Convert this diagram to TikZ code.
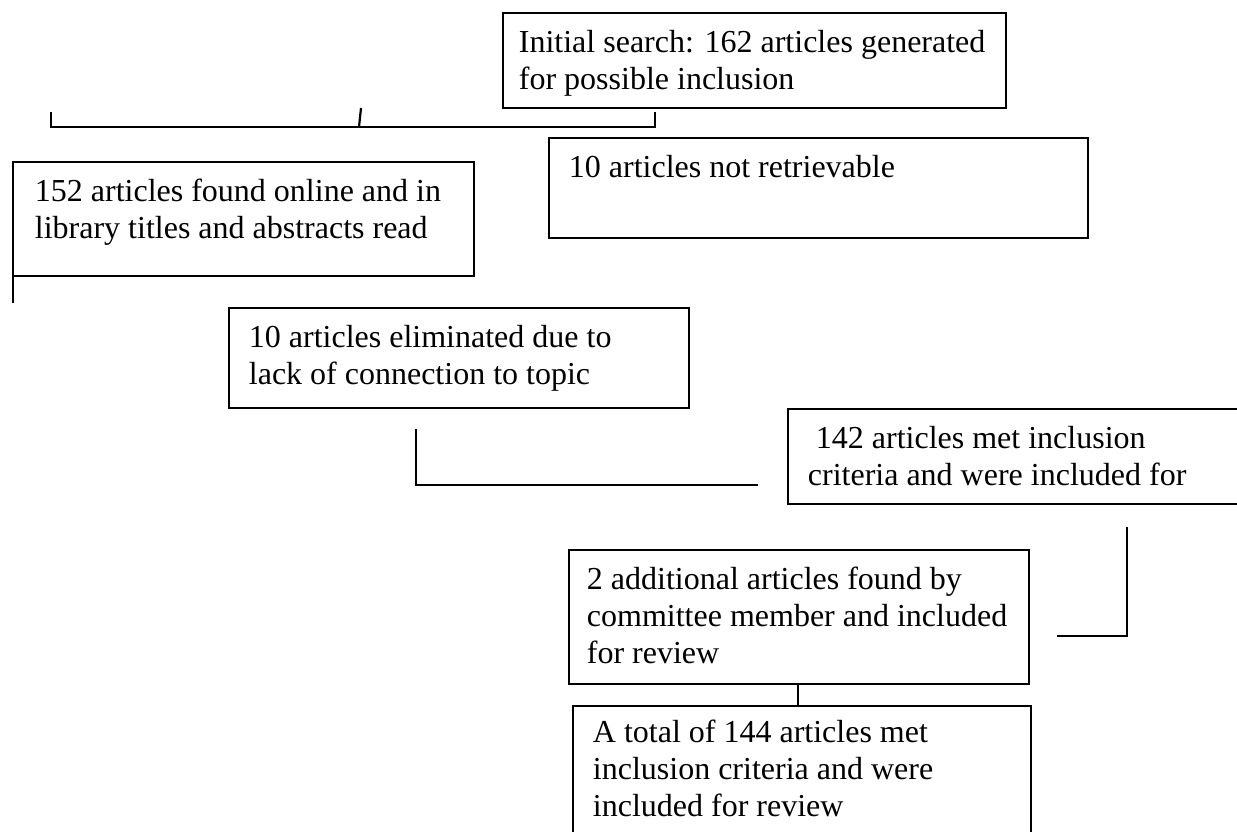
\documentclass[tikz,border=0pt]{standalone}
\usepackage{fontspec}
\setmainfont{Liberation Serif}
\usetikzlibrary{positioning}

\tikzset{
  flowbox/.style={draw, line width=1.8pt, anchor=north west, inner xsep=20pt, inner ysep=13pt,
    font=\fontsize{32}{37}\selectfont, align=left},
  link/.style={line width=2.2pt}
}
% text block of fixed size, first baseline 27pt below its top
\newcommand{\boxbody}[3]{\parbox[c][#2pt][t]{#1pt}{\raggedright\rule{0pt}{27pt}#3}}

\begin{document}
\begin{tikzpicture}[x=1pt, y=-1pt]
% Page
\path[use as bounding box, fill=white] (0,0) rectangle (1237,832);
\clip (0,0) rectangle (1237,832);

% Boxes
\node[flowbox, inner xsep=16pt] (search) at (502,12) {\boxbody{471}{69}{Initial search: 162 articles generated\\for possible inclusion}};
\node[flowbox, inner xsep=22pt] (found) at (12,161) {\boxbody{417}{88}{152 articles found online and in\\library titles and abstracts read}};
\node[flowbox] (lost) at (548,137) {\boxbody{499}{74}{10 articles not retrievable}};
\node[flowbox] (elim) at (228,307) {\boxbody{420}{74}{10 articles eliminated due to\\lack of connection to topic}};
\node[flowbox] (met) at (787,408) {\boxbody{460}{69}{\hspace*{8pt}142 articles met inclusion\\criteria and were included for}};
\node[flowbox, inner xsep=18pt] (extra) at (568,549) {\boxbody{424}{108}{2 additional articles found by\\committee member and included\\for review}};
\node[flowbox, inner ysep=10pt] (total) at (572,705) {\boxbody{418}{140}{A total of 144 articles met\\inclusion criteria and were\\included for review}};

% Connector points
\coordinate (stubtop) at (361,108);
\coordinate (split) at (359,127);
\coordinate (splitL) at (51,127);
\coordinate (splitR) at (655,127);
\coordinate (sideA) at (13,265);
\coordinate (sideB) at (13,303);
\coordinate (elbowA) at (416,429);
\coordinate (elbowB) at (416,485);
\coordinate (elbowC) at (758,485);
\coordinate (hookA) at (1127,527);
\coordinate (hookB) at (1127,636);
\coordinate (hookC) at (1057,636);
\coordinate (tie) at (798,0);

% Connectors
\draw[link] (stubtop) -- (split);
\draw[link] ([yshift=15pt]splitL) -- (splitL) -- (splitR) -- ([yshift=15pt]splitR);
\draw[link] (sideA) -- (sideB);
\draw[link] (elbowA) -- (elbowB) -- (elbowC);
\draw[link] (hookA) -- (hookB) -- (hookC);
\draw[link] (extra.south -| tie) -- (total.north -| tie);
\end{tikzpicture}
\end{document}
